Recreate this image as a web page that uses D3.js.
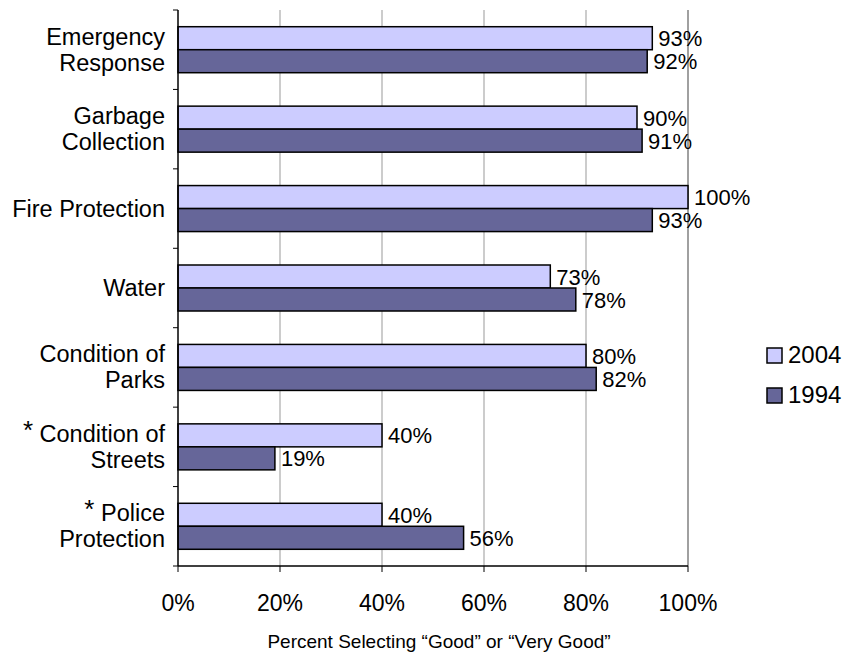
<!DOCTYPE html>
<html>
<head>
<meta charset="utf-8">
<script src="https://cdn.jsdelivr.net/npm/d3@7.9.0/dist/d3.min.js"></script>
<style>
  body { margin: 0; background: #fff; }
  svg text { font-family: "Liberation Sans", Arial, sans-serif; fill: #000; }
</style>
</head>
<body>
<svg width="859" height="655"></svg>
<script>
const categories = [
  ["Emergency", "Response"],
  ["Garbage", "Collection"],
  ["Fire Protection"],
  ["Water"],
  ["Condition of", "Parks"],
  ["Condition of", "Streets"],
  ["Police", "Protection"]
];
const starred = [false, false, false, false, false, true, true];
const years = ["2004", "1994"];
const values2004 = [93, 90, 100, 73, 80, 40, 40];
const values1994 = [92, 91, 93, 78, 82, 19, 56];
const xTicks = [0, 20, 40, 60, 80, 100];
const colors = { "2004": "#ccccff", "1994": "#666699" };

const svg = d3.select("svg");
const plotLeft = 178, plotRight = 688, plotTop = 10, plotBottom = 566;

const x = d3.scaleLinear().domain([0, 100]).range([plotLeft, plotRight]);
const y = d3.scaleBand().domain(d3.range(categories.length)).range([plotTop, plotBottom]).padding(0);
const barH = 23;

// gridlines
svg.selectAll("line.grid").data(xTicks.slice(1)).join("line")
  .attr("class", "grid")
  .attr("x1", d => x(d)).attr("x2", d => x(d))
  .attr("y1", plotTop).attr("y2", plotBottom)
  .attr("stroke", d => d === 100 ? "#808080" : "#999")
  .attr("stroke-width", d => d === 100 ? 1.5 : 1);

// bars
const rows = categories.map((c, i) => ({ i, v2004: values2004[i], v1994: values1994[i] }));
const g = svg.append("g");
rows.forEach(r => {
  const cy = y(r.i) + y.bandwidth() / 2;
  [["2004", r.v2004, cy - barH], ["1994", r.v1994, cy]].forEach(([yr, v, yy]) => {
    g.append("rect")
      .attr("x", x(0)).attr("y", yy)
      .attr("width", x(v) - x(0)).attr("height", barH)
      .attr("fill", colors[yr]).attr("stroke", "#000").attr("stroke-width", 1.5);
    g.append("text")
      .attr("x", x(v) + 6).attr("y", yy + barH / 2 + 8)
      .attr("font-size", 22)
      .text(v + "%");
  });
});

// axes
svg.append("line").attr("x1", plotLeft).attr("x2", plotLeft).attr("y1", plotTop).attr("y2", plotBottom)
  .attr("stroke", "#000").attr("stroke-width", 1.5);
svg.append("line").attr("x1", plotLeft).attr("x2", plotRight).attr("y1", plotBottom).attr("y2", plotBottom)
  .attr("stroke", "#000").attr("stroke-width", 1.5);

// y ticks at band boundaries
svg.selectAll("line.ytick").data(d3.range(categories.length + 1)).join("line")
  .attr("class", "ytick")
  .attr("x1", plotLeft - 5).attr("x2", plotLeft)
  .attr("y1", d => plotTop + d * y.step()).attr("y2", d => plotTop + d * y.step())
  .attr("stroke", "#000");

// x ticks
svg.selectAll("line.xtick").data(xTicks).join("line")
  .attr("class", "xtick")
  .attr("x1", d => x(d)).attr("x2", d => x(d))
  .attr("y1", plotBottom).attr("y2", plotBottom + 6)
  .attr("stroke", "#000");
svg.selectAll("text.xlab").data(xTicks).join("text")
  .attr("class", "xlab")
  .attr("x", d => x(d)).attr("y", 611)
  .attr("text-anchor", "middle").attr("font-size", 23)
  .text(d => d + "%");

// category labels
categories.forEach((lines, i) => {
  const cy = y(i) + y.bandwidth() / 2;
  const lh = 26;
  const t = svg.append("text").attr("text-anchor", "end").attr("font-size", 23.5);
  lines.forEach((ln, k) => {
    const ts = t.append("tspan").attr("x", 165)
      .attr("y", cy + 8 + (k - (lines.length - 1) / 2) * lh);
    if (k === 0 && starred[i]) {
      ts.append("tspan").attr("font-size", 26).attr("dy", -3).text("*");
      ts.append("tspan").attr("dy", 3).text(" " + ln);
    } else {
      ts.text(ln);
    }
  });
});

// axis title
svg.append("text").attr("x", x(50) + 6).attr("y", 648)
  .attr("text-anchor", "middle").attr("font-size", 19)
  .text("Percent Selecting \u201cGood\u201d or \u201cVery Good\u201d");

// legend
years.forEach((yr, k) => {
  const ly = 348 + k * 40;
  svg.append("rect").attr("x", 767).attr("y", ly).attr("width", 15).attr("height", 15)
    .attr("fill", colors[yr]).attr("stroke", "#000").attr("stroke-width", 1.5);
  svg.append("text").attr("x", 788).attr("y", ly + 15).attr("font-size", 24).text(yr);
});
</script>
</body>
</html>
